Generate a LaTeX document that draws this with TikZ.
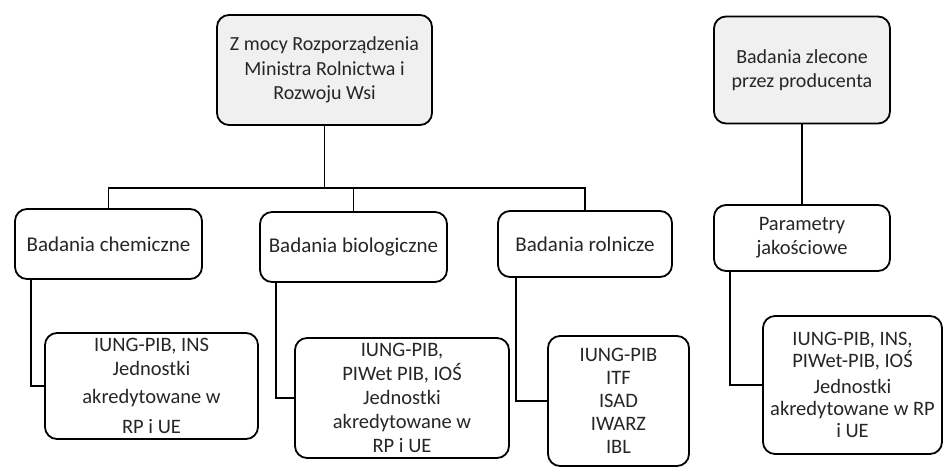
\documentclass[tikz,border=0pt]{standalone}
\usepackage{fontspec}
\setmainfont{Carlito}
\definecolor{boxgray}{HTML}{F0F0F0}
\definecolor{txt}{HTML}{262626}
\tikzset{
  box/.style={draw=black, line width=1.8pt, rounded corners=12pt, fill=white,
    align=center, inner sep=0pt, text=txt, font=\fontsize{21}{24}\selectfont},
  topbox/.style={box, fill=boxgray, font=\fontsize{20}{24.5}\selectfont},
  botbox/.style={box, font=\fontsize{20.5}{24}\selectfont},
  link/.style={draw=black, line width=1.8pt},
}
\begin{document}
\begin{tikzpicture}[x=1pt,y=-1pt]
\useasboundingbox (0,0) rectangle (943,468);
% top level
\node[topbox, minimum width=215pt, minimum height=110pt] (mrp) at (324.5,70)
  {Z mocy Rozporządzenia\\Ministra Rolnictwa i\\Rozwoju Wsi};
\node[topbox, minimum width=176pt, minimum height=107pt] (zl) at (802,70)
  {Badania zlecone\\przez producenta};
% second level
\node[box, minimum width=187pt, minimum height=70pt] (chem) at (108.5,244) {Badania chemiczne};
\node[box, minimum width=187pt, minimum height=70pt] (bio) at (353.5,247) {Badania biologiczne};
\node[box, minimum width=174pt, minimum height=66pt] (rol) at (585,244) {Badania rolnicze};
\node[box, minimum width=176pt, minimum height=66pt, font=\fontsize{20.5}{24}\selectfont] (par) at (802,238) {Parametry\\jakościowe};
% third level
\node[botbox, minimum width=213pt, minimum height=106pt] (chembot) at (151.5,386)
  {IUNG-PIB, INS\\Jednostki\\[4pt]akredytowane w\\[6pt]RP i UE};
\node[botbox, minimum width=214pt, minimum height=120pt] (biobot) at (402,398)
  {IUNG-PIB,\\PIWet PIB, IOŚ\\Jednostki\\akredytowane w\\RP i UE};
\node[botbox, minimum width=141pt, minimum height=130pt, font=\fontsize{20.5}{23}\selectfont] (rolbot) at (618.5,401)
  {IUNG-PIB\\ITF\\ISAD\\IWARZ\\IBL};
\node[botbox, minimum width=179pt, minimum height=138pt, font=\fontsize{20.5}{22}\selectfont] (parbot) at (852.5,385)
  {IUNG-PIB, INS,\\PIWet-PIB, IOŚ\\[4pt]Jednostki\\akredytowane w RP\\i UE};
% connectors
\draw[link] (mrp.south) -- ++(0,62) coordinate (bus);
\draw[link] (chem.north) -- (chem.north |- bus) -- (rol.north |- bus) -- (rol.north);
\draw[link] (bio.north) -- (bio.north |- bus);
\draw[link] (zl.south) -- (par.north);
\draw[link] ([xshift=17pt]chem.south west) |- (chembot.west);
\draw[link] ([xshift=17pt]bio.south west) |- (biobot.west);
\draw[link] ([xshift=19pt]rol.south west) |- (rolbot.west);
\draw[link] ([xshift=17pt]par.south west) |- (parbot.west);
\end{tikzpicture}
\end{document}
